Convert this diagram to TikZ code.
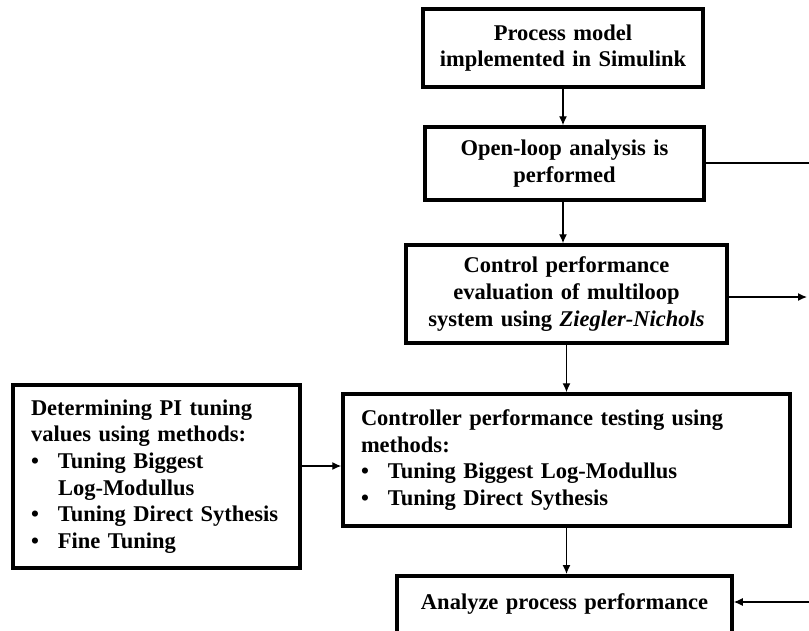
\documentclass[tikz,border=0pt]{standalone}
\usepackage{fontspec}
\setmainfont{Liberation Serif}
\usetikzlibrary{arrows.meta}
\newcommand{\bulitem}{\makebox[27pt][l]{•}}
\begin{document}
\begin{tikzpicture}[x=1pt,y=-1pt,
  box/.style={draw, line width=3.5pt, inner sep=0pt, font=\fontsize{22.5}{26.7}\selectfont\bfseries},
  conn/.style={line width=1.3pt, -{Latex[length=9pt,width=8pt]}},
  plainline/.style={line width=1.3pt}]
\useasboundingbox (0,0) rectangle (809,630);
\clip (0,0) rectangle (809,630);

\node[box, minimum width=280, minimum height=78, text width=270, align=center] (b1) at (563,48)
  {Process model\\implemented in Simulink};
\node[box, minimum width=279, minimum height=73, text width=270, align=center] (b2) at (564.5,163.5)
  {Open-loop analysis is\\performed};
\node[box, minimum width=321, minimum height=98, text width=310, align=center] (b3) at (566.5,294)
  {Control performance\\evaluation of multiloop\\system using \textit{Ziegler-Nichols}};
\node[box, minimum width=447, minimum height=132, text width=411, align=left] (b4) at (566.5,460)
  {Controller performance testing using\\methods:\\\bulitem Tuning Biggest Log-Modullus\\\bulitem Tuning Direct Sythesis};
\node[box, minimum width=287, minimum height=183, text width=251, align=left] (b5) at (156.5,476.5)
  {Determining PI tuning\\values using methods:\\\bulitem Tuning Biggest\\\hspace*{27pt}Log-Modullus\\\bulitem Tuning Direct Sythesis\\\bulitem Fine Tuning};
\node[box, anchor=north, minimum width=335, minimum height=79, text width=325, align=center] (b6) at (564.5,574)
  {Analyze process performance\\\phantom{t}};

\coordinate (m) at (0,466);
\coordinate (e1) at (809,163);
\coordinate (e2) at (807,297);
\coordinate (e3) at (809,602);

\draw[conn] (b1.south) -- (b1.south |- b2.north);
\draw[conn] (b2.south -| b1.south) -- (b1.south |- b3.north);
\draw[conn] (b3.south) -- (b3.south |- b4.north);
\draw[conn] (b4.south) -- (b4.south |- b6.north);
\draw[conn] (b5.east |- m) -- (b4.west |- m);
\draw[plainline] (b2.east |- e1) -- (e1);
\draw[conn] (b3.east |- e2) -- (e2);
\draw[conn] (e3) -- (b6.east |- e3);
\end{tikzpicture}
\end{document}
